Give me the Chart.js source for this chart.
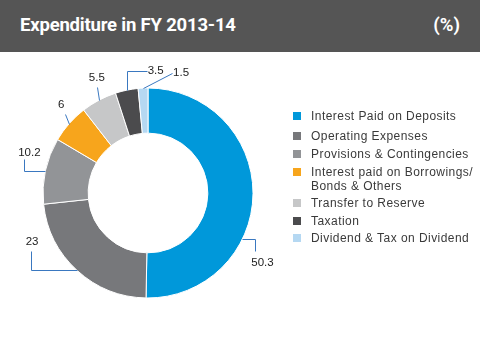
<!DOCTYPE html>
<html>
<head>
<meta charset="utf-8">
<script src="https://cdn.jsdelivr.net/npm/chart.js@4"></script>
<style>
  html, body { margin:0; padding:0; background:#fff; }
  #wrap { position:relative; width:480px; height:339px; overflow:hidden; font-family:"Liberation Sans", Arial, sans-serif; }
  #hdr { position:absolute; left:0; top:0; width:480px; height:52px; background:#555555; color:#fff; font-family:Roboto, sans-serif; font-weight:bold; }
  #hdr .t { position:absolute; left:20px; top:14px; font-size:18.5px; letter-spacing:-0.2px; }
  #hdr .u { position:absolute; right:20px; top:14px; font-size:18.5px; }
  #cv { position:absolute; left:0; top:52px; }
  #legend { position:absolute; left:293px; top:0px; font-size:12px; letter-spacing:0.45px; color:#3a3a3a; }
  .li { position:absolute; left:0; white-space:nowrap; }
  .sw { position:absolute; left:0; top:0; width:8px; height:8px; }
  .tx { position:absolute; left:18px; top:-3px; line-height:14px; }
</style>
</head>
<body>
<div id="wrap">
  <div id="hdr"><span class="t">Expenditure in FY 2013-14</span><span class="u">(%)</span></div>
  <canvas id="cv" width="480" height="287"></canvas>
  <div id="legend"></div>
</div>
<script>
const categories = [
  "Interest Paid on Deposits",
  "Operating Expenses",
  "Provisions & Contingencies",
  "Interest paid on Borrowings/ Bonds & Others",
  "Transfer to Reserve",
  "Taxation",
  "Dividend & Tax on Dividend"
];
const legendLines = [
  ["Interest Paid on Deposits"],
  ["Operating Expenses"],
  ["Provisions & Contingencies"],
  ["Interest paid on Borrowings/", "Bonds & Others"],
  ["Transfer to Reserve"],
  ["Taxation"],
  ["Dividend & Tax on Dividend"]
];
const values = [50.3, 23, 10.2, 6, 5.5, 3.5, 1.5];
const valueLabels = ["50.3", "23", "10.2", "6", "5.5", "3.5", "1.5"];
const colors = ["#0098da", "#77787b", "#929497", "#f7a51c", "#c6c7c8", "#4b4b4d", "#b5d8f2"];

// leader styling: anchor position inside slice (fraction), path offsets from anchor, label offset & alignment
const leaders = [
  { frac: 0.64, path: [[0,0],[13,0],[13,12]], label: [20,24], align: "center" },
  { frac: 0.5,  path: [[0,0],[-46,0],[-46,-19]], label: [-45,-29], align: "center" },
  { frac: 0.5,  path: [[0,0],[-21,0],[-21,-12]], label: [-16,-18], align: "center" },
  { frac: 0.5,  path: [[0,0],[-4,-10]], label: [-8,-19], align: "center" },
  { frac: 0.5,  path: [[0,0],[-2,-13]], label: [-2,-22], align: "center" },
  { frac: 0.5,  path: [[0,0],[0,-19],[20,-19]], label: [21,-19], align: "left" },
  { frac: 0.5,  path: [[0,0],[29,-15]], label: [30,-15], align: "left" }
];

// HTML legend (swatch top positions)
const legendTops = [112, 132, 150, 168, 199, 217, 234];
const lg = document.getElementById('legend');
legendLines.forEach((lines, i) => {
  const d = document.createElement('div');
  d.className = 'li';
  d.style.top = legendTops[i] + 'px';
  const sw = document.createElement('div');
  sw.className = 'sw';
  sw.style.background = colors[i];
  const tx = document.createElement('div');
  tx.className = 'tx';
  tx.innerHTML = lines.map(s => s.replace(/&/g,'&amp;')).join('<br>');
  d.appendChild(sw); d.appendChild(tx);
  lg.appendChild(d);
});

const leaderPlugin = {
  id: 'leaders',
  afterDatasetsDraw(chart) {
    const ctx = chart.ctx;
    const meta = chart.getDatasetMeta(0);
    ctx.save();
    ctx.strokeStyle = '#3a78c0';
    ctx.lineWidth = 1;
    ctx.fillStyle = '#222';
    ctx.font = '11.5px "Liberation Sans", Arial, sans-serif';
    ctx.textBaseline = 'middle';
    meta.data.forEach((arc, i) => {
      const L = leaders[i];
      const p = arc.getProps(['x','y','startAngle','endAngle','outerRadius'], true);
      const a = p.startAngle + (p.endAngle - p.startAngle) * L.frac;
      const ax = p.x + Math.cos(a) * p.outerRadius;
      const ay = p.y + Math.sin(a) * p.outerRadius;
      ctx.beginPath();
      L.path.forEach((o, k) => {
        const x = Math.round(ax + o[0]) + 0.5, y = Math.round(ay + o[1]) + 0.5;
        if (k === 0) ctx.moveTo(x, y); else ctx.lineTo(x, y);
      });
      ctx.stroke();
      ctx.textAlign = L.align;
      ctx.fillText(valueLabels[i], ax + L.label[0], ay + L.label[1]);
    });
    ctx.restore();
  }
};

new Chart(document.getElementById('cv'), {
  type: 'doughnut',
  data: {
    labels: categories,
    datasets: [{
      data: values,
      backgroundColor: colors,
      borderColor: '#ffffff',
      borderWidth: 1,
      hoverOffset: 0
    }]
  },
  options: {
    responsive: false,
    animation: false,
    cutout: '57%',
    radius: 105,
    layout: { padding: { left: 43, right: 227, top: 36, bottom: 41 } },
    plugins: { legend: { display: false }, tooltip: { enabled: false } },
    events: []
  },
  plugins: [leaderPlugin]
});
</script>
</body>
</html>
